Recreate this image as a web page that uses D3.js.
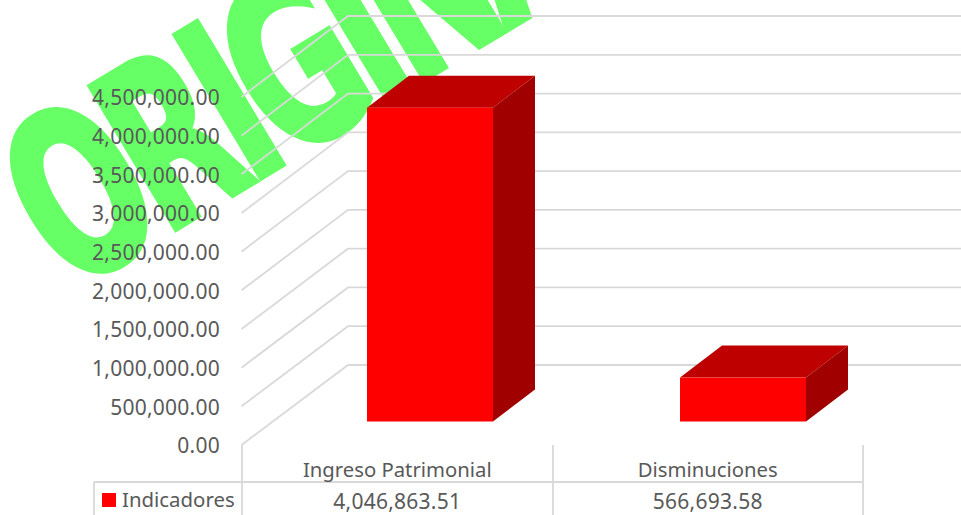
<!DOCTYPE html>
<html><head><meta charset="utf-8">
<script src="https://cdn.jsdelivr.net/npm/d3@7"></script>
<style>html,body{margin:0;padding:0;background:#fff;overflow:hidden}svg{display:block}text{font-family:"Noto Sans",sans-serif;fill:#595959}</style>
</head><body><svg id="c" width="961" height="515"></svg>
<script>
const categories = ["Ingreso Patrimonial", "Disminuciones"];
const values = [4046863.51, 566693.58];
const valueLabels = ["4,046,863.51", "566,693.58"];
const seriesName = "Indicadores";
const tickValues = [0, 500000, 1000000, 1500000, 2000000, 2500000, 3000000, 3500000, 4000000, 4500000];
const watermark = "ORIGINAL";

const W = 961, H = 515, G = "#D9D9D9";
const svg = d3.select("#c");
const fmt = d3.format(",.2f");

// watermark
svg.append("text").text(watermark)
  .attr("transform", "translate(69,293) rotate(-31) scale(0.63,1)")
  .attr("font-size", 228)
  .style("font-family", "'DejaVu Sans'").style("font-weight", 700)
  .style("letter-spacing", "-18px")
  .style("fill", "#66FF66").style("stroke", "#66FF66").style("stroke-width", 6);

const yFront = d3.scaleLinear().domain([0, 4500000]).range([445, 97]);
const yBack = d3.scaleLinear().domain([0, 4500000]).range([365, 16]);
const yBar = d3.scaleLinear().domain([0, 4500000]).range([421.5, 72.5]);
const xCol = d3.scaleBand().domain(categories).range([242, 863]);
const xBar = d3.scalePoint().domain(categories).range([367, 680]);
const barW = 126, dx = 42, dy = 32;

// gridlines
svg.append("g").selectAll("path").data(tickValues).join("path")
  .attr("d", d => d3.line()([[241.5, yFront(d)], [348, yBack(d)], [W, yBack(d)]]))
  .attr("fill", "none").attr("stroke", G).attr("stroke-width", 1.8);

// y axis labels
const ax = svg.append("g").attr("transform", "translate(220,1)")
  .call(d3.axisLeft(yFront).tickValues(tickValues).tickFormat(fmt).tickSize(0).tickPadding(0));
ax.select(".domain").remove();
ax.selectAll("text").attr("font-size", 21).style("letter-spacing", "0.25px")
  .style("font-family", "'Noto Sans'").style("fill", "#595959");

// bars
const bars = svg.append("g").selectAll("g").data(categories).join("g");
const bx = c => xBar(c);
bars.append("path").attr("fill", "#BE0000").attr("d", (c, i) => {
  const x = bx(c), t = yBar(values[i]);
  return d3.line()([[x, t], [x + dx, t - dy], [x + barW + dx, t - dy], [x + barW, t]]) + "Z";
});
bars.append("path").attr("fill", "#A00000").attr("d", (c, i) => {
  const x = bx(c) + barW, t = yBar(values[i]), b = yBar(0);
  return d3.line()([[x, t], [x + dx, t - dy], [x + dx, b - dy], [x, b]]) + "Z";
});
bars.append("rect").attr("fill", "#FF0000")
  .attr("x", c => bx(c)).attr("width", barW)
  .attr("y", (c, i) => yBar(values[i]))
  .attr("height", (c, i) => yBar(0) - yBar(values[i]));

// data table
const t = svg.append("g").attr("stroke", G).attr("stroke-width", 1.8).attr("fill", "none");
[242, 553, 863].forEach(x => t.append("line").attr("x1", x).attr("x2", x).attr("y1", 445).attr("y2", H));
t.append("line").attr("x1", 94).attr("x2", 863).attr("y1", 482).attr("y2", 482);
t.append("line").attr("x1", 94).attr("x2", 94).attr("y1", 482).attr("y2", H);

svg.append("g").selectAll("text").data(categories).join("text")
  .attr("x", c => xCol(c) + xCol.bandwidth() / 2).attr("y", 477)
  .attr("text-anchor", "middle").attr("font-size", 20.3).text(c => c);
svg.append("g").selectAll("text").data(valueLabels).join("text")
  .attr("x", (d, i) => xCol(categories[i]) + xCol.bandwidth() / 2).attr("y", 509)
  .attr("text-anchor", "middle").attr("font-size", 21).style("letter-spacing", "0.25px").text(d => d);

svg.append("rect").attr("x", 102).attr("y", 493).attr("width", 14).attr("height", 14).attr("fill", "#FF0000");
svg.append("text").attr("x", 122).attr("y", 507).attr("font-size", 20.4).text(seriesName);
</script></body></html>
